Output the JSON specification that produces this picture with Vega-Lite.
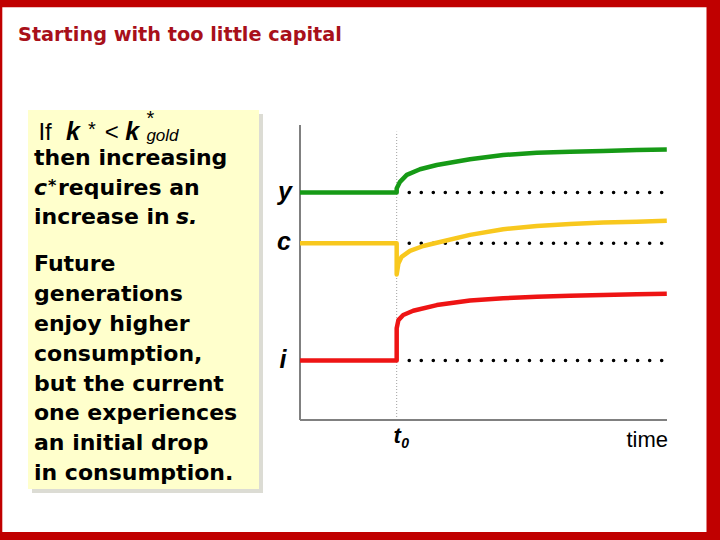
{
  "$schema": "https://vega.github.io/schema/vega-lite/v6.json",
  "width": 720,
  "height": 540,
  "autosize": {"type": "fit", "contains": "padding"},
  "padding": 0,
  "background": "white",
  "config": {"view": {"stroke": null}},
  "datasets": {
    "frame": [
      {"part": "top", "x1": -7.5, "x2": 10.5, "y1": 13.757, "y2": 14},
      {"part": "left", "x1": -7.5, "x2": -7.4425, "y1": -4, "y2": 14},
      {"part": "right", "x1": 10.1625, "x2": 10.5, "y1": -4, "y2": 14},
      {"part": "bottom", "x1": -7.5, "x2": 10.5, "y1": -4, "y2": -3.733}
    ],
    "shadow": [{"x1": -6.7, "x2": -0.925, "y1": -2.433, "y2": 10.2}],
    "box": [{"x1": -6.8, "x2": -1.025, "y1": -2.3, "y2": 10.33}],
    "axes": [
      {"axis": "time", "x1": 0, "x2": 9.175, "y1": 0, "y2": 0},
      {"axis": "value", "x1": 0, "x2": 0, "y1": 0, "y2": 9.83}
    ],
    "t0line": [{"t": 2.417, "y1": 0, "y2": 9.61}],
    "levels": [
      {"series": "y", "from": 2.73, "to": 9.05, "value": 7.58},
      {"series": "c", "from": 2.73, "to": 9.05, "value": 5.89},
      {"series": "i", "from": 2.73, "to": 9.05, "value": 1.98}
    ],
    "curves": [
      {"series": "y", "seq": 0, "time": 0, "value": 7.58},
      {"series": "y", "seq": 1, "time": 2.417, "value": 7.58},
      {"series": "y", "seq": 2, "time": 2.417, "value": 7.72},
      {"series": "y", "seq": 3, "time": 2.5, "value": 7.94},
      {"series": "y", "seq": 4, "time": 2.67, "value": 8.17},
      {"series": "y", "seq": 5, "time": 3.0, "value": 8.36},
      {"series": "y", "seq": 6, "time": 3.42, "value": 8.5},
      {"series": "y", "seq": 7, "time": 4.25, "value": 8.69},
      {"series": "y", "seq": 8, "time": 5.08, "value": 8.83},
      {"series": "y", "seq": 9, "time": 5.92, "value": 8.91},
      {"series": "y", "seq": 10, "time": 6.75, "value": 8.94},
      {"series": "y", "seq": 11, "time": 7.58, "value": 8.97},
      {"series": "y", "seq": 12, "time": 8.42, "value": 9.0},
      {"series": "y", "seq": 13, "time": 9.17, "value": 9.02},
      {"series": "c", "seq": 0, "time": 0, "value": 5.89},
      {"series": "c", "seq": 1, "time": 2.417, "value": 5.89},
      {"series": "c", "seq": 2, "time": 2.417, "value": 4.85},
      {"series": "c", "seq": 3, "time": 2.46, "value": 5.22},
      {"series": "c", "seq": 4, "time": 2.54, "value": 5.44},
      {"series": "c", "seq": 5, "time": 2.75, "value": 5.64},
      {"series": "c", "seq": 6, "time": 3.08, "value": 5.8},
      {"series": "c", "seq": 7, "time": 3.42, "value": 5.91},
      {"series": "c", "seq": 8, "time": 4.25, "value": 6.17},
      {"series": "c", "seq": 9, "time": 5.08, "value": 6.36},
      {"series": "c", "seq": 10, "time": 5.92, "value": 6.47},
      {"series": "c", "seq": 11, "time": 6.75, "value": 6.53},
      {"series": "c", "seq": 12, "time": 7.58, "value": 6.58},
      {"series": "c", "seq": 13, "time": 8.42, "value": 6.61},
      {"series": "c", "seq": 14, "time": 9.17, "value": 6.64},
      {"series": "i", "seq": 0, "time": 0, "value": 1.98},
      {"series": "i", "seq": 1, "time": 2.417, "value": 1.98},
      {"series": "i", "seq": 2, "time": 2.417, "value": 3.06},
      {"series": "i", "seq": 3, "time": 2.46, "value": 3.33},
      {"series": "i", "seq": 4, "time": 2.58, "value": 3.5},
      {"series": "i", "seq": 5, "time": 2.83, "value": 3.64},
      {"series": "i", "seq": 6, "time": 3.42, "value": 3.83},
      {"series": "i", "seq": 7, "time": 4.25, "value": 3.98},
      {"series": "i", "seq": 8, "time": 5.08, "value": 4.06},
      {"series": "i", "seq": 9, "time": 5.92, "value": 4.11},
      {"series": "i", "seq": 10, "time": 6.75, "value": 4.14},
      {"series": "i", "seq": 11, "time": 7.58, "value": 4.17},
      {"series": "i", "seq": 12, "time": 8.42, "value": 4.19},
      {"series": "i", "seq": 13, "time": 9.17, "value": 4.21}
    ],
    "title": [{"text": "Starting with too little capital", "x": -7.05, "y": 12.62}],
    "body": [
      {"text": "then increasing", "x": -6.65, "y": 8.5},
      {"text": "requires an", "x": -6.05, "y": 7.5},
      {"text": "increase in", "x": -6.65, "y": 6.52},
      {"text": "Future", "x": -6.65, "y": 4.97},
      {"text": "generations", "x": -6.65, "y": 3.97},
      {"text": "enjoy higher", "x": -6.65, "y": 2.98},
      {"text": "consumption,", "x": -6.65, "y": 1.98},
      {"text": "but the current", "x": -6.65, "y": 0.98},
      {"text": "one experiences", "x": -6.65, "y": 0},
      {"text": "an initial drop", "x": -6.65, "y": -1},
      {"text": "in consumption.", "x": -6.65, "y": -2}
    ],
    "bodyItalic": [
      {"text": "c", "x": -6.65, "y": 7.5},
      {"text": "s.", "x": -3.1, "y": 6.52}
    ],
    "bodyStar": [{"text": "*", "x": -6.3, "y": 7.62}],
    "formulaRegular": [
      {"text": "If", "x": -6.54, "y": 9.32},
      {"text": "<", "x": -4.88, "y": 9.32}
    ],
    "formulaK": [
      {"text": "k", "x": -5.85, "y": 9.32},
      {"text": "k", "x": -4.37, "y": 9.32}
    ],
    "formulaStar": [
      {"text": "*", "x": -5.3, "y": 9.48},
      {"text": "*", "x": -3.84, "y": 9.84}
    ],
    "formulaSub": [{"text": "gold", "x": -3.84, "y": 9.3}],
    "seriesLabels": [
      {"text": "y", "x": -0.375, "y": 7.33},
      {"text": "c", "x": -0.4, "y": 5.67},
      {"text": "i", "x": -0.425, "y": 1.73}
    ],
    "tLabel": [{"text": "t", "x": 2.43, "y": -0.77}],
    "tSub": [{"text": "0", "x": 2.63, "y": -0.93}],
    "timeLabel": [{"text": "time", "x": 9.2, "y": -0.9}]
  },
  "layer": [
    {
      "data": {"name": "frame"},
      "mark": {"type": "rect", "fill": "#C00000"},
      "encoding": {
        "x": {"field": "x1", "type": "quantitative", "scale": {"domain": [-7.5, 10.5], "nice": false, "zero": false}, "axis": null},
        "x2": {"field": "x2"},
        "y": {"field": "y1", "type": "quantitative", "scale": {"domain": [-4, 14], "nice": false, "zero": false}, "axis": null},
        "y2": {"field": "y2"}
      }
    },
    {
      "data": {"name": "shadow"},
      "mark": {"type": "rect", "fill": "#DCDCD4"},
      "encoding": {
        "x": {"field": "x1", "type": "quantitative"},
        "x2": {"field": "x2"},
        "y": {"field": "y1", "type": "quantitative"},
        "y2": {"field": "y2"}
      }
    },
    {
      "data": {"name": "box"},
      "mark": {"type": "rect", "fill": "#FFFFCC"},
      "encoding": {
        "x": {"field": "x1", "type": "quantitative"},
        "x2": {"field": "x2"},
        "y": {"field": "y1", "type": "quantitative"},
        "y2": {"field": "y2"}
      }
    },
    {
      "data": {"name": "t0line"},
      "mark": {"type": "rule", "stroke": "#A0A0A0", "strokeWidth": 1, "strokeDash": [1, 2]},
      "encoding": {
        "x": {"field": "t", "type": "quantitative"},
        "y": {"field": "y1", "type": "quantitative"},
        "y2": {"field": "y2"}
      }
    },
    {
      "data": {"name": "axes"},
      "mark": {"type": "rule", "stroke": "#808080", "strokeWidth": 2},
      "encoding": {
        "x": {"field": "x1", "type": "quantitative"},
        "x2": {"field": "x2"},
        "y": {"field": "y1", "type": "quantitative"},
        "y2": {"field": "y2"}
      }
    },
    {
      "data": {"name": "levels"},
      "mark": {"type": "rule", "stroke": "black", "strokeWidth": 3.5, "strokeCap": "round", "strokeDash": [0.1, 11.92]},
      "encoding": {
        "x": {"field": "from", "type": "quantitative"},
        "x2": {"field": "to"},
        "y": {"field": "value", "type": "quantitative"}
      }
    },
    {
      "data": {"name": "curves"},
      "mark": {"type": "line", "strokeWidth": 4.5, "strokeJoin": "round", "strokeCap": "butt"},
      "encoding": {
        "x": {"field": "time", "type": "quantitative"},
        "y": {"field": "value", "type": "quantitative"},
        "order": {"field": "seq"},
        "color": {"field": "series", "type": "nominal", "scale": {"domain": ["y", "c", "i"], "range": ["#169A16", "#F8C81E", "#EE1414"]}, "legend": null}
      }
    },
    {
      "data": {"name": "title"},
      "mark": {"type": "text", "font": "DejaVu Sans", "fontWeight": "bold", "fontSize": 19.3, "fill": "#A8101A", "align": "left", "baseline": "alphabetic"},
      "encoding": {"x": {"field": "x", "type": "quantitative"}, "y": {"field": "y", "type": "quantitative"}, "text": {"field": "text"}}
    },
    {
      "data": {"name": "body"},
      "mark": {"type": "text", "font": "DejaVu Sans", "fontWeight": "bold", "fontSize": 22, "fill": "black", "align": "left", "baseline": "alphabetic"},
      "encoding": {"x": {"field": "x", "type": "quantitative"}, "y": {"field": "y", "type": "quantitative"}, "text": {"field": "text"}}
    },
    {
      "data": {"name": "bodyItalic"},
      "mark": {"type": "text", "font": "DejaVu Sans", "fontWeight": "bold", "fontStyle": "italic", "fontSize": 22, "fill": "black", "align": "left", "baseline": "alphabetic"},
      "encoding": {"x": {"field": "x", "type": "quantitative"}, "y": {"field": "y", "type": "quantitative"}, "text": {"field": "text"}}
    },
    {
      "data": {"name": "bodyStar"},
      "mark": {"type": "text", "font": "DejaVu Sans", "fontWeight": "bold", "fontSize": 16, "fill": "black", "align": "left", "baseline": "alphabetic"},
      "encoding": {"x": {"field": "x", "type": "quantitative"}, "y": {"field": "y", "type": "quantitative"}, "text": {"field": "text"}}
    },
    {
      "data": {"name": "formulaRegular"},
      "mark": {"type": "text", "font": "Liberation Sans", "fontSize": 24, "fill": "black", "align": "left", "baseline": "alphabetic"},
      "encoding": {"x": {"field": "x", "type": "quantitative"}, "y": {"field": "y", "type": "quantitative"}, "text": {"field": "text"}}
    },
    {
      "data": {"name": "formulaK"},
      "mark": {"type": "text", "font": "Liberation Sans", "fontWeight": "bold", "fontStyle": "italic", "fontSize": 25, "fill": "black", "align": "left", "baseline": "alphabetic"},
      "encoding": {"x": {"field": "x", "type": "quantitative"}, "y": {"field": "y", "type": "quantitative"}, "text": {"field": "text"}}
    },
    {
      "data": {"name": "formulaStar"},
      "mark": {"type": "text", "font": "Liberation Sans", "fontSize": 20, "fill": "black", "align": "left", "baseline": "alphabetic"},
      "encoding": {"x": {"field": "x", "type": "quantitative"}, "y": {"field": "y", "type": "quantitative"}, "text": {"field": "text"}}
    },
    {
      "data": {"name": "formulaSub"},
      "mark": {"type": "text", "font": "Liberation Sans", "fontStyle": "italic", "fontSize": 17, "fill": "black", "align": "left", "baseline": "alphabetic"},
      "encoding": {"x": {"field": "x", "type": "quantitative"}, "y": {"field": "y", "type": "quantitative"}, "text": {"field": "text"}}
    },
    {
      "data": {"name": "seriesLabels"},
      "mark": {"type": "text", "font": "Liberation Sans", "fontWeight": "bold", "fontStyle": "italic", "fontSize": 25, "fill": "black", "align": "center", "baseline": "alphabetic"},
      "encoding": {"x": {"field": "x", "type": "quantitative"}, "y": {"field": "y", "type": "quantitative"}, "text": {"field": "text"}}
    },
    {
      "data": {"name": "tLabel"},
      "mark": {"type": "text", "font": "Liberation Sans", "fontWeight": "bold", "fontStyle": "italic", "fontSize": 22, "fill": "black", "align": "center", "baseline": "alphabetic"},
      "encoding": {"x": {"field": "x", "type": "quantitative"}, "y": {"field": "y", "type": "quantitative"}, "text": {"field": "text"}}
    },
    {
      "data": {"name": "tSub"},
      "mark": {"type": "text", "font": "Liberation Sans", "fontWeight": "bold", "fontStyle": "italic", "fontSize": 14, "fill": "black", "align": "center", "baseline": "alphabetic"},
      "encoding": {"x": {"field": "x", "type": "quantitative"}, "y": {"field": "y", "type": "quantitative"}, "text": {"field": "text"}}
    },
    {
      "data": {"name": "timeLabel"},
      "mark": {"type": "text", "font": "Liberation Sans", "fontSize": 22, "fill": "black", "align": "right", "baseline": "alphabetic"},
      "encoding": {"x": {"field": "x", "type": "quantitative"}, "y": {"field": "y", "type": "quantitative"}, "text": {"field": "text"}}
    }
  ]
}
